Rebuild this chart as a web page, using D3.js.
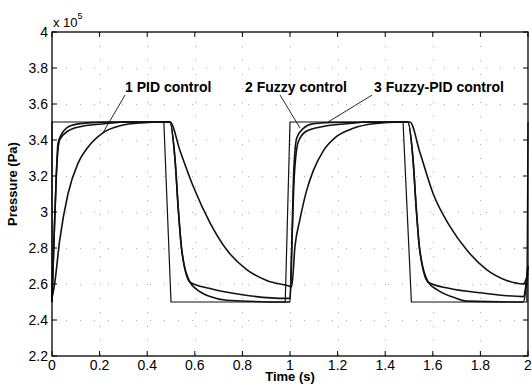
<!DOCTYPE html>
<html>
<head>
<meta charset="utf-8">
<script src="https://cdn.jsdelivr.net/npm/d3@7"></script>
<style>
  html, body { margin: 0; padding: 0; background: #fff; }
  svg { display: block; font-family: "Liberation Sans", Arial, sans-serif; }
</style>
</head>
<body>
<div id="chart"></div>
<script>
// values in units of 1e5 Pa
const setT = [0, 0, 0.47, 0.5, 0.98, 1.0, 1.475, 1.51, 1.995, 2.0];
const setV = [2.5, 3.5, 3.5, 2.5, 2.5, 3.5, 3.5, 2.5, 2.5, 3.5];

const pidT = [0, 0.011, 0.032, 0.067, 0.109, 0.151, 0.214, 0.29, 0.374, 0.47, 0.496, 0.538, 0.594, 0.664, 0.734, 0.818, 0.902, 0.993,
  1.007, 1.021, 1.042, 1.07, 1.098, 1.14, 1.196, 1.266, 1.35, 1.47, 1.504, 1.546, 1.602, 1.672, 1.742, 1.826, 1.91, 1.98, 2.0];
const pidV = [2.52, 2.6, 2.84, 3.1, 3.27, 3.36, 3.44, 3.48, 3.495, 3.5, 3.5, 3.34, 3.14, 2.94, 2.79, 2.68, 2.62, 2.59,
  2.585, 2.81, 2.96, 3.12, 3.23, 3.34, 3.42, 3.465, 3.49, 3.5, 3.5, 3.33, 3.1, 2.92, 2.79, 2.68, 2.62, 2.6, 2.66];

const fuzzyT = [0, 0.008, 0.018, 0.032, 0.067, 0.123, 0.22, 0.32, 0.495, 0.517, 0.531, 0.545, 0.58, 0.664, 0.8, 0.986,
  1.0, 1.008, 1.018, 1.035, 1.07, 1.14, 1.238, 1.33, 1.495, 1.517, 1.531, 1.545, 1.581, 1.672, 1.81, 1.98, 2.0];
const fuzzyV = [2.5, 2.83, 3.2, 3.4, 3.45, 3.475, 3.49, 3.5, 3.5, 3.29, 3.01, 2.79, 2.61, 2.575, 2.54, 2.52,
  2.52, 2.83, 3.2, 3.39, 3.45, 3.475, 3.49, 3.5, 3.5, 3.29, 3.01, 2.79, 2.61, 2.575, 2.55, 2.53, 2.7];

const fpidT = [0, 0.008, 0.018, 0.025, 0.039, 0.081, 0.151, 0.25, 0.495, 0.517, 0.531, 0.545, 0.58, 0.608, 0.664, 0.734, 0.98,
  1.0, 1.008, 1.015, 1.028, 1.056, 1.097, 1.17, 1.495, 1.517, 1.531, 1.545, 1.581, 1.616, 1.7, 1.74, 1.98, 2.0];
const fpidV = [2.5, 2.83, 3.2, 3.38, 3.43, 3.48, 3.495, 3.5, 3.5, 3.29, 3.01, 2.79, 2.61, 2.57, 2.53, 2.51, 2.5,
  2.5, 2.83, 3.2, 3.41, 3.465, 3.49, 3.497, 3.5, 3.29, 3.01, 2.79, 2.61, 2.57, 2.52, 2.505, 2.5, 2.7];

const xTicks = [0, 0.2, 0.4, 0.6, 0.8, 1, 1.2, 1.4, 1.6, 1.8, 2];
const yTicks = [2.2, 2.4, 2.6, 2.8, 3, 3.2, 3.4, 3.6, 3.8, 4];

// annotation: label, text anchor [t, v], leader from [t, v] to [t, v]
const notes = [
  { text: '1 PID control', at: [0.307, 3.667], from: [0.307, 3.65], to: [0.214, 3.44] },
  { text: '2 Fuzzy control', at: [0.811, 3.667], from: [0.958, 3.65], to: [1.042, 3.467] },
  { text: '3 Fuzzy-PID control', at: [1.353, 3.667], from: [1.345, 3.65], to: [1.16, 3.5] },
];

const W = 532, H = 387;
const m = { left: 52, right: 4, top: 32, bottom: 31 };

const svg = d3.select('#chart').append('svg').attr('width', W).attr('height', H);

const x = d3.scaleLinear().domain([0, 2]).range([m.left, W - m.right]);
const y = d3.scaleLinear().domain([2.2, 4]).range([H - m.bottom, m.top]);

// dotted grid (sparse, like the printed MATLAB grid)
const grid = svg.append('g').attr('stroke', '#aaa').attr('stroke-width', 1).attr('stroke-dasharray', '1 13');
grid.selectAll('line.gx').data(xTicks.slice(1, -1)).join('line')
  .attr('class', 'gx')
  .attr('x1', (d) => Math.round(x(d)) + 0.5).attr('x2', (d) => Math.round(x(d)) + 0.5)
  .attr('y1', y(4)).attr('y2', y(2.2));
grid.selectAll('line.gy').data(yTicks.slice(1, -1)).join('line')
  .attr('class', 'gy')
  .attr('y1', (d) => Math.round(y(d)) + 0.5).attr('y2', (d) => Math.round(y(d)) + 0.5)
  .attr('x1', x(0)).attr('x2', x(2));

const zip = (a, b) => a.map((t, i) => [t, b[i]]);
const lineStep = d3.line().x((d) => x(d[0])).y((d) => y(d[1]));
const lineSmooth = d3.line().x((d) => x(d[0])).y((d) => y(d[1])).curve(d3.curveMonotoneX);

svg.append('path').datum(zip(setT, setV)).attr('d', lineStep)
  .attr('fill', 'none').attr('stroke', '#111').attr('stroke-width', 1.2);

[[pidT, pidV], [fuzzyT, fuzzyV], [fpidT, fpidV]].forEach(([t, v]) => {
  svg.append('path').datum(zip(t, v)).attr('d', lineSmooth)
    .attr('fill', 'none').attr('stroke', '#111').attr('stroke-width', 1.6)
    .attr('stroke-linejoin', 'round');
});

// box + ticks
const axisG = svg.append('g').attr('stroke', '#000').attr('fill', 'none');
axisG.append('rect').attr('x', x(0)).attr('y', y(4)).attr('width', x(2) - x(0)).attr('height', y(2.2) - y(4))
  .attr('stroke-width', 1.3);
const tk = 5;
xTicks.forEach((d) => {
  axisG.append('line').attr('x1', x(d)).attr('x2', x(d)).attr('y1', y(2.2)).attr('y2', y(2.2) - tk);
  axisG.append('line').attr('x1', x(d)).attr('x2', x(d)).attr('y1', y(4)).attr('y2', y(4) + tk);
});
yTicks.forEach((d) => {
  axisG.append('line').attr('y1', y(d)).attr('y2', y(d)).attr('x1', x(0)).attr('x2', x(0) + tk);
  axisG.append('line').attr('y1', y(d)).attr('y2', y(d)).attr('x1', x(2)).attr('x2', x(2) - tk);
});

svg.append('g').selectAll('text').data(xTicks).join('text')
  .attr('x', (d) => x(d)).attr('y', H - 17)
  .attr('text-anchor', 'middle').attr('font-size', 14).attr('fill', '#000')
  .text((d) => d3.format('~g')(d));

svg.append('g').selectAll('text').data(yTicks).join('text')
  .attr('x', x(0) - 4).attr('y', (d) => y(d) + 5)
  .attr('text-anchor', 'end').attr('font-size', 14).attr('fill', '#000')
  .text((d) => d3.format('~g')(d));

const exp = svg.append('text').attr('x', x(0) + 1).attr('y', 27).attr('font-size', 13).attr('fill', '#000');
exp.append('tspan').text('x 10');
exp.append('tspan').attr('dy', -8).attr('font-size', 9).text('5');

svg.append('text').attr('x', (x(0) + x(2)) / 2).attr('y', H - 6)
  .attr('text-anchor', 'middle').attr('font-size', 13).attr('font-weight', 'bold').attr('fill', '#000')
  .text('Time (s)');

svg.append('text').attr('transform', `translate(17,${184}) rotate(-90)`)
  .attr('text-anchor', 'middle').attr('font-size', 13).attr('font-weight', 'bold').attr('fill', '#000')
  .text('Pressure (Pa)');

// annotations
notes.forEach((n) => {
  svg.append('line')
    .attr('x1', x(n.from[0])).attr('y1', y(n.from[1]))
    .attr('x2', x(n.to[0])).attr('y2', y(n.to[1]))
    .attr('stroke', '#111').attr('stroke-width', 0.9);
  svg.append('text').attr('x', x(n.at[0])).attr('y', y(n.at[1]))
    .attr('font-size', 14).attr('font-weight', 'bold').attr('fill', '#000')
    .text(n.text);
});
</script>
</body>
</html>
